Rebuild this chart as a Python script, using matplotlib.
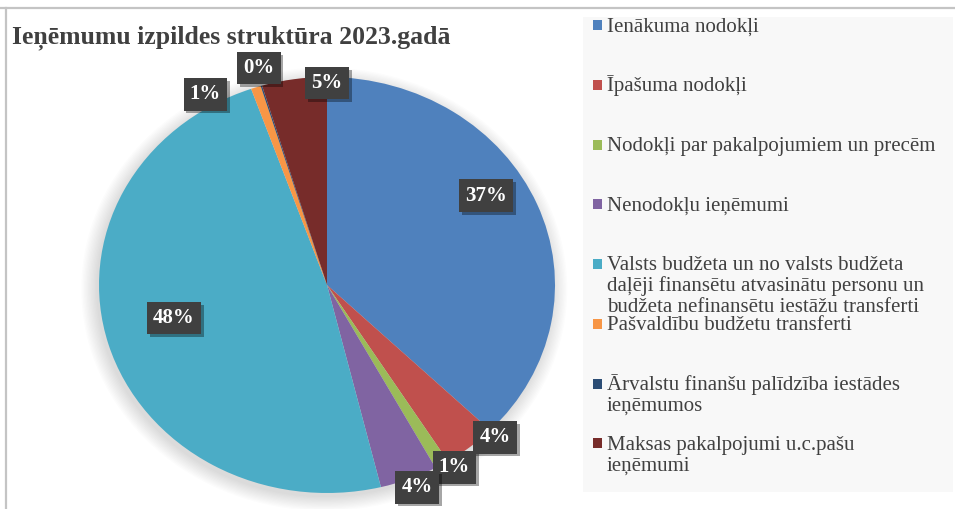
import numpy as np
import matplotlib
matplotlib.use("Agg")
import matplotlib.pyplot as plt
from matplotlib.patches import Rectangle, Ellipse
from matplotlib.lines import Line2D
import matplotlib.patheffects as pe

# dati
categories = [
    "Ienākuma nodokļi",
    "Īpašuma nodokļi",
    "Nodokļi par pakalpojumiem un precēm",
    "Nenodokļu ieņēmumi",
    "Valsts budžeta un no valsts budžeta\ndaļēji finansētu atvasinātu personu un\nbudžeta nefinansētu iestāžu transferti",
    "Pašvaldību budžetu transferti",
    "Ārvalstu finanšu palīdzība iestādes\nieņēmumos",
    "Maksas pakalpojumi u.c.pašu\nieņēmumi",
]
shares = [37.3, 3.8, 1.0, 4.1, 48.4, 0.7, 0.1, 4.6]
colors = ["#4f81bd", "#c0504d", "#9bbb59", "#8064a2",
          "#4bacc6", "#f79646", "#2c4d75", "#772c2a"]
title = "Ieņēmumu izpildes struktūra 2023.gadā"

# etiķešu izvietojums (attālums no centra, leņķis no augšas pulksteņrādītāja virzienā)
label_pos = [(0.82, 58.4), (1.04, 134.8), (1.04, 147.5), (1.05, 157.9),
             (0.69, 256.7), (1.06, 329.8), (1.085, 344.0), (0.97, 360.0)]

W, H = 955, 509
fig = plt.figure(figsize=(W / 100, H / 100), dpi=100)
fig.patch.set_facecolor("white")

# rāmis
fig.add_artist(Line2D([0, 1], [1 - 8 / H, 1 - 8 / H], color="#c4c4c4", lw=1.6))
fig.add_artist(Line2D([6 / W, 6 / W], [0, 1 - 8 / H], color="#c4c4c4", lw=1.6))

# leģendas fons
fig.add_artist(Rectangle((583 / W, 1 - 492 / H), (953 - 583) / W, (492 - 17) / H,
                         transform=fig.transFigure, facecolor="#f8f8f8",
                         edgecolor="none", zorder=0))

fig.text(12 / W, 1 - 38 / H, title, fontsize=18.5, fontweight="bold",
         family="Liberation Serif", color="#404040", va="center", ha="left")

# pīrāgs
cx, cy, rx, ry = 327, 285, 228, 208
ax = fig.add_axes([(cx - rx) / W, 1 - (cy + ry) / H, 2 * rx / W, 2 * ry / H])
for i in range(12):
    s = 1.0 + 0.006 * i
    ax.add_patch(Ellipse((-0.012, -0.02), 2 * s, 2 * s, facecolor="#000000",
                         alpha=0.012, edgecolor="none", zorder=0, clip_on=False))
wedges, _ = ax.pie(shares, colors=colors, startangle=90, counterclock=False,
                   wedgeprops=dict(linewidth=0))
ax.set_aspect("auto")
ax.set_xlim(-1, 1)
ax.set_ylim(-1, 1)
ax.axis("off")

for v, (r, ang) in zip(shares, label_pos):
    a = np.deg2rad(ang)
    t = ax.text(r * np.sin(a), r * np.cos(a), f"{v:.0f}%", ha="center", va="center",
                fontsize=15, fontweight="bold", family="Liberation Serif", color="white",
                bbox=dict(boxstyle="square,pad=0.3", facecolor="#404040",
                          edgecolor="none"), clip_on=False, zorder=5)
    t.get_bbox_patch().set_path_effects([
        pe.SimplePatchShadow(offset=(2, -2), shadow_rgbFace="#000000", alpha=0.35),
        pe.Normal()])

# leģenda
y0, step, line_h = 25, 59.75, 21
for i, (name, col) in enumerate(zip(categories, colors)):
    yc = y0 + i * step
    fig.add_artist(Rectangle((593 / W, 1 - (yc + 5) / H), 9 / W, 10 / H,
                             transform=fig.transFigure, facecolor=col,
                             edgecolor="none", zorder=2))
    for j, line in enumerate(name.split("\n")):
        fig.text(607 / W, 1 - (yc + 6.5 + j * line_h) / H, line, fontsize=15,
                 family="Liberation Serif", color="#404040", ha="left",
                 va="baseline")

fig.savefig("out.png", dpi=100)
